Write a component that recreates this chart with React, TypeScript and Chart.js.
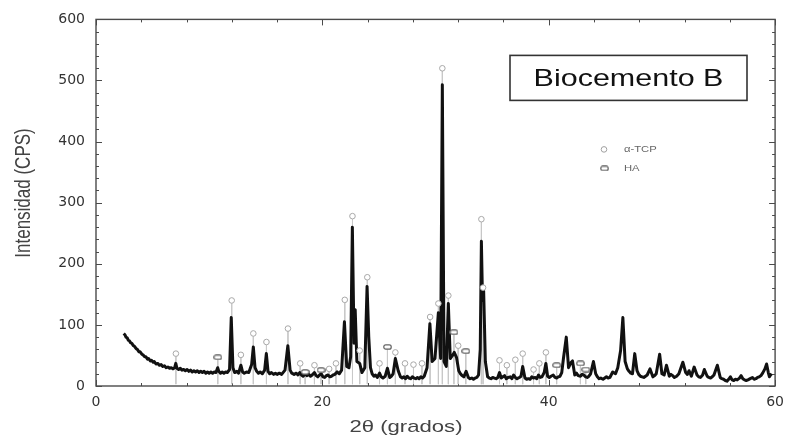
import { useEffect, useRef } from "react";
import { Chart, registerables } from "chart.js";

Chart.register(...registerables);

// 2θ (degrees) / intensity (CPS) pairs
const pattern: [number, number][] = [
  [2.45, 86], [2.55, 84], [2.65, 80], [2.75, 79], [2.85, 75], [2.95, 74], [3.05, 71], [3.15, 70],
  [3.3, 66], [3.4, 65], [3.55, 61], [3.65, 60], [3.8, 56], [3.9, 56], [4.05, 52], [4.15, 51],
  [4.3, 48], [4.4, 48], [4.55, 44], [4.65, 45], [4.8, 41], [4.9, 42], [5.05, 39], [5.15, 40],
  [5.3, 36], [5.45, 37], [5.6, 34], [5.75, 35], [5.9, 32], [6.05, 33], [6.2, 30], [6.35, 31],
  [6.5, 29], [6.65, 30], [6.8, 28], [6.95, 30], [7.05, 37], [7.15, 29], [7.3, 27], [7.45, 29],
  [7.6, 26], [7.75, 27], [7.9, 25], [8.05, 27], [8.2, 24], [8.35, 26], [8.5, 23], [8.65, 25],
  [8.8, 23], [8.95, 25], [9.1, 22], [9.25, 24], [9.4, 22], [9.55, 24], [9.7, 21], [9.85, 23],
  [10.0, 21], [10.15, 23], [10.3, 21], [10.45, 23], [10.6, 22], [10.75, 30], [10.85, 24], [11.0, 21],
  [11.15, 23], [11.3, 21], [11.45, 23], [11.6, 22], [11.8, 27], [11.95, 112], [12.1, 30], [12.25, 22],
  [12.45, 24], [12.6, 21], [12.8, 34], [12.95, 23], [13.1, 21], [13.3, 23], [13.5, 22], [13.75, 35],
  [13.9, 64], [14.05, 30], [14.2, 24], [14.35, 21], [14.5, 23], [14.7, 20], [14.9, 26], [15.05, 53],
  [15.2, 24], [15.35, 20], [15.5, 22], [15.7, 19], [15.85, 21], [16.0, 19], [16.2, 21], [16.4, 19],
  [16.7, 26], [16.95, 66], [17.15, 26], [17.3, 21], [17.5, 19], [17.7, 21], [17.85, 18], [18.0, 22],
  [18.15, 18], [18.3, 16], [18.5, 20], [18.65, 17], [18.8, 19], [18.95, 16], [19.1, 18], [19.3, 22],
  [19.45, 17], [19.6, 15], [19.75, 18], [19.9, 20], [20.05, 15], [20.2, 14], [20.35, 17], [20.5, 18],
  [20.65, 15], [20.8, 16], [20.95, 18], [21.1, 19], [21.3, 23], [21.5, 20], [21.7, 26], [21.95, 105],
  [22.15, 32], [22.35, 30], [22.5, 48], [22.65, 260], [22.8, 70], [22.9, 125], [23.05, 40], [23.3, 37],
  [23.5, 22], [23.75, 30], [23.95, 163], [24.1, 80], [24.25, 30], [24.4, 20], [24.55, 16], [24.7, 18],
  [24.85, 14], [25.05, 21], [25.2, 15], [25.35, 13], [25.55, 16], [25.75, 29], [25.95, 14], [26.1, 16],
  [26.25, 20], [26.45, 45], [26.7, 25], [26.9, 15], [27.05, 13], [27.2, 15], [27.35, 12], [27.5, 16],
  [27.65, 13], [27.8, 12], [27.95, 15], [28.1, 13], [28.25, 12], [28.4, 14], [28.55, 12], [28.7, 15],
  [28.85, 13], [29.0, 16], [29.25, 30], [29.5, 102], [29.7, 40], [29.95, 45], [30.25, 120], [30.45, 45],
  [30.6, 493], [30.75, 40], [30.95, 32], [31.13, 135], [31.3, 45], [31.5, 50], [31.65, 55], [31.85, 47],
  [32.05, 25], [32.2, 20], [32.35, 17], [32.5, 15], [32.7, 24], [32.9, 14], [33.05, 12], [33.2, 13],
  [33.35, 11], [33.5, 13], [33.65, 14], [33.8, 18], [33.95, 60], [34.05, 237], [34.15, 140], [34.25, 156],
  [34.4, 40], [34.6, 15], [34.75, 13], [34.9, 12], [35.05, 14], [35.2, 13], [35.35, 12], [35.5, 14],
  [35.65, 22], [35.8, 13], [35.95, 15], [36.1, 17], [36.25, 12], [36.4, 14], [36.6, 15], [36.75, 12],
  [36.9, 18], [37.05, 14], [37.2, 12], [37.4, 14], [37.55, 16], [37.7, 32], [37.9, 13], [38.05, 11],
  [38.2, 12], [38.35, 11], [38.5, 15], [38.65, 13], [38.8, 14], [38.95, 12], [39.1, 18], [39.25, 14],
  [39.4, 15], [39.6, 22], [39.75, 37], [39.9, 16], [40.05, 14], [40.2, 16], [40.4, 18], [40.55, 14],
  [40.7, 13], [40.85, 15], [41.0, 16], [41.15, 22], [41.3, 45], [41.55, 80], [41.75, 30], [41.95, 38],
  [42.1, 41], [42.3, 18], [42.45, 21], [42.6, 17], [42.8, 16], [42.95, 19], [43.1, 18], [43.25, 15],
  [43.4, 14], [43.55, 16], [43.7, 20], [43.95, 40], [44.15, 20], [44.3, 15], [44.45, 12], [44.6, 13],
  [44.8, 11], [44.95, 13], [45.1, 15], [45.25, 13], [45.4, 14], [45.65, 23], [45.9, 20], [46.1, 30],
  [46.35, 58], [46.55, 112], [46.75, 40], [46.95, 28], [47.1, 24], [47.25, 21], [47.4, 20], [47.6, 53],
  [47.8, 25], [47.95, 19], [48.1, 16], [48.25, 15], [48.4, 14], [48.55, 16], [48.7, 18], [48.95, 28],
  [49.2, 15], [49.35, 17], [49.5, 20], [49.8, 52], [50.0, 20], [50.2, 18], [50.4, 34], [50.65, 16],
  [50.8, 19], [50.95, 17], [51.1, 14], [51.3, 16], [51.5, 20], [51.85, 39], [52.1, 22], [52.25, 19],
  [52.4, 25], [52.6, 16], [52.85, 31], [53.1, 18], [53.25, 15], [53.4, 14], [53.6, 18], [53.75, 27],
  [54.0, 16], [54.15, 14], [54.3, 13], [54.45, 15], [54.6, 18], [54.9, 34], [55.15, 14], [55.3, 12],
  [55.45, 11], [55.6, 9], [55.75, 8], [55.9, 11], [56.05, 15], [56.2, 10], [56.35, 9], [56.5, 11],
  [56.65, 10], [56.85, 13], [57.0, 17], [57.15, 12], [57.3, 10], [57.45, 9], [57.6, 10], [57.8, 12],
  [58.0, 14], [58.15, 11], [58.3, 12], [58.45, 14], [58.6, 15], [58.75, 17], [58.9, 21], [59.1, 28],
  [59.25, 36], [59.4, 22], [59.5, 15], [59.6, 18], [59.7, 20],
];

// α-TCP reflection markers: position and marker height
const tcpTheta = [7.06, 11.99, 12.8, 13.9, 15.06, 16.96, 18.04, 19.3, 20.6, 21.2, 21.98, 22.66, 23.3, 23.97,
  25.05, 26.45, 27.3, 28.05, 28.8, 29.52, 30.25, 30.6, 31.13, 32.0, 34.05, 34.2, 35.65, 36.3, 37.05, 37.7,
  38.66, 39.17, 39.75];
const tcpMark = [53, 140, 51, 86, 72, 94, 37, 34, 28, 37, 141, 278, 58, 178,
  37, 55, 37, 35, 37, 113, 135, 520, 148, 66, 273, 161, 42, 34, 43, 53,
  27, 37, 55];

// HA reflection markers
const haTheta = [10.76, 18.48, 19.88, 25.75, 31.62, 32.67, 40.7, 42.8, 43.27];
const haMark = [47, 23, 26, 64, 88, 57, 34, 37, 27];

const xTickValues = [0, 20, 40, 60];
const yTickValues = [0, 100, 200, 300, 400, 500, 600];
const chartTitle = "Biocemento B";
const xTitle = "2θ (grados)";
const yTitle = "Intensidad (CPS)";
const legendLabels = ["α-TCP", "HA"];

function makeHaStyle(): HTMLCanvasElement {
  const c = document.createElement("canvas");
  c.width = 9;
  c.height = 6;
  const g = c.getContext("2d")!;
  g.fillStyle = "#ffffff";
  g.strokeStyle = "#5e5e5e";
  g.lineWidth = 1.2;
  g.beginPath();
  (g as any).roundRect(0.8, 0.8, 7.4, 4.4, 2);
  g.fill();
  g.stroke();
  return c;
}

function stretchedText(ctx: CanvasRenderingContext2D, text: string, x: number, y: number, sx: number, align: CanvasTextAlign) {
  ctx.save();
  ctx.translate(x, y);
  ctx.scale(sx, 1);
  ctx.textAlign = align;
  ctx.fillText(text, 0, 0);
  ctx.restore();
}

let haImg: HTMLCanvasElement;

const framePlugin = {
  id: "frameTicks",
  beforeDatasetsDraw(chart: any) {
    const { ctx, chartArea: a, scales } = chart;
    ctx.save();
    ctx.strokeStyle = "#4a4a4a";
    ctx.lineWidth = 1.4;
    ctx.strokeRect(a.left, a.top, a.right - a.left, a.bottom - a.top);
    ctx.lineWidth = 1;
    ctx.beginPath();
    for (let v = 0; v <= 600; v += 20) {
      const y = Math.round(scales.y.getPixelForValue(v)) + 0.5;
      const len = v % 100 === 0 ? 6 : 3;
      ctx.moveTo(a.left, y); ctx.lineTo(a.left + len, y);
      ctx.moveTo(a.right, y); ctx.lineTo(a.right - len, y);
    }
    for (let v = 0; v <= 60; v += 4) {
      const x = Math.round(scales.x.getPixelForValue(v)) + 0.5;
      const len = v % 20 === 0 ? 6 : 3;
      ctx.moveTo(x, a.bottom); ctx.lineTo(x, a.bottom - len);
      ctx.moveTo(x, a.top); ctx.lineTo(x, a.top + len);
    }
    ctx.stroke();
    ctx.restore();
  },
  afterDraw(chart: any) {
    const { ctx, chartArea: a } = chart;
    ctx.save();
    ctx.fillStyle = "#444";
    ctx.font = "17px 'Liberation Sans', Arial, sans-serif";
    ctx.textBaseline = "middle";
    stretchedText(ctx, xTitle, 406, 427, 1.3, "center");
    ctx.save();
    ctx.translate(24, 193);
    ctx.rotate(-Math.PI / 2);
    ctx.scale(1, 1.3);
    ctx.textAlign = "center";
    ctx.fillText(yTitle, 0, 0);
    ctx.restore();

    ctx.strokeStyle = "#333";
    ctx.lineWidth = 1.6;
    ctx.strokeRect(a.left + 414, a.top + 36, 237, 45);
    ctx.fillStyle = "#111";
    ctx.font = "24px 'Liberation Sans', Arial, sans-serif";
    ctx.textBaseline = "alphabetic";
    stretchedText(ctx, chartTitle, a.left + 532.5, a.top + 67, 1.27, "center");

    ctx.font = "9px 'Liberation Sans', Arial, sans-serif";
    ctx.textBaseline = "middle";
    ctx.fillStyle = "#666";
    ctx.strokeStyle = "#a0a0a0";
    ctx.lineWidth = 1;
    ctx.beginPath();
    ctx.arc(a.left + 508, a.top + 130, 2.8, 0, Math.PI * 2);
    ctx.stroke();
    stretchedText(ctx, legendLabels[0], a.left + 528, a.top + 130, 1.25, "left");
    ctx.drawImage(haImg, a.left + 504, a.top + 146);
    stretchedText(ctx, legendLabels[1], a.left + 528, a.top + 149, 1.25, "left");
    ctx.restore();
  },
};

export default function App() {
  const ref = useRef<HTMLCanvasElement>(null);

  useEffect(() => {
    document.body.style.margin = "0";
    haImg = makeHaStyle();
    const markers = [
      ...tcpTheta.map((x, i) => ({ x, y: tcpMark[i] })),
      ...haTheta.map((x, i) => ({ x, y: haMark[i] })),
    ].sort((p, q) => p.x - q.x);
    const stems: { x: number; y: number | null }[] = [];
    markers.forEach((m) => {
      stems.push({ x: m.x, y: m.y }, { x: m.x, y: 3 }, { x: m.x, y: null });
    });

    const tickFont = { family: "'DejaVu Sans', sans-serif", size: 14 };
    const chart = new Chart(ref.current!, {
      type: "line",
      data: {
        datasets: [
          {
            type: "scatter",
            label: legendLabels[0],
            data: tcpTheta.map((x, i) => ({ x, y: tcpMark[i] })),
            pointStyle: "circle",
            pointRadius: 2.8,
            borderColor: "#a8a8a8",
            backgroundColor: "#ffffff",
            borderWidth: 1,
            showLine: false,
            order: 0,
          } as any,
          {
            type: "scatter",
            label: legendLabels[1],
            data: haTheta.map((x, i) => ({ x, y: haMark[i] })),
            pointStyle: haImg,
            showLine: false,
            order: 0,
          } as any,
          {
            label: "Biocemento B",
            data: pattern.map(([x, y]) => ({ x, y })),
            borderColor: "#111111",
            borderWidth: 3,
            borderJoinStyle: "round",
            pointRadius: 0,
            tension: 0,
            order: 1,
          },
          {
            label: "stems",
            data: stems as any,
            borderColor: "#c8c8c8",
            borderWidth: 1,
            pointRadius: 0,
            spanGaps: false,
            order: 2,
          },
        ],
      },
      options: {
        responsive: false,
        animation: false,
        events: [],
        layout: { padding: { left: 0, right: 11, top: 18, bottom: 0 } },
        plugins: { legend: { display: false }, tooltip: { enabled: false } },
        scales: {
          x: {
            type: "linear",
            min: 0,
            max: 60,
            afterBuildTicks: (s: any) => { s.ticks = xTickValues.map((v) => ({ value: v })); },
            afterFit: (s: any) => { s.height = 52; },
            grid: { display: false, drawTicks: false },
            border: { display: false },
            ticks: { padding: 8, font: tickFont, color: "#333", maxRotation: 0, autoSkip: false },
          },
          y: {
            type: "linear",
            min: 0,
            max: 600,
            afterBuildTicks: (s: any) => { s.ticks = yTickValues.map((v) => ({ value: v })); },
            afterFit: (s: any) => { s.width = 96; },
            grid: { display: false, drawTicks: false },
            border: { display: false },
            ticks: { padding: 11, font: tickFont, color: "#333", autoSkip: false },
          },
        },
      },
      plugins: [framePlugin],
    });
    return () => chart.destroy();
  }, []);

  return <canvas ref={ref} width={792} height={438} style={{ display: "block" }} />;
}
